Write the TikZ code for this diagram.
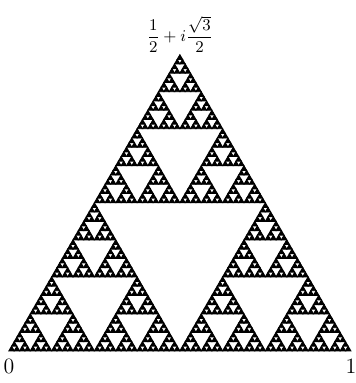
\documentclass[tikz,border=0pt]{standalone}
\usepackage{amsmath}
\usepackage{tikz}

% depth, x, y, side
\newcommand{\sierpinski}[4]{%
  \ifnum#1=0
    \filldraw[line width=0.5pt,line join=miter] (#2,#3) -- ++(#4,0) -- ++(120:#4) -- cycle;
  \else
    \begingroup
    \pgfmathtruncatemacro\sdepth{#1-1}%
    \pgfmathsetmacro\shalf{#4/2}%
    \pgfmathsetmacro\sxb{#2+\shalf}%
    \pgfmathsetmacro\sxc{#2+\shalf/2}%
    \pgfmathsetmacro\syc{#3+\shalf*0.8660254}%
    \edef\snext{\noexpand\sierpinski{\sdepth}{#2}{#3}{\shalf}%
      \noexpand\sierpinski{\sdepth}{\sxb}{#3}{\shalf}%
      \noexpand\sierpinski{\sdepth}{\sxc}{\syc}{\shalf}}%
    \snext
    \endgroup
  \fi}

\begin{document}
\begin{tikzpicture}[scale=6.6]
\useasboundingbox (-0.026,-0.094) rectangle (1.015,1.026);
\sierpinski{6}{0}{0}{1}
\coordinate (O) at (0,0);
\coordinate (E) at (1,0);
\coordinate (A) at (0.5,0.8660254);
\node[below=1pt] (zero) at (O) {\large $0$};
\node[below=1pt] (one) at (E) {\large $1$};
\node[above,inner sep=1pt] (apex) at (A) {\small $\dfrac{1}{2}+i\dfrac{\sqrt{3}}{2}$};
\end{tikzpicture}
\end{document}
